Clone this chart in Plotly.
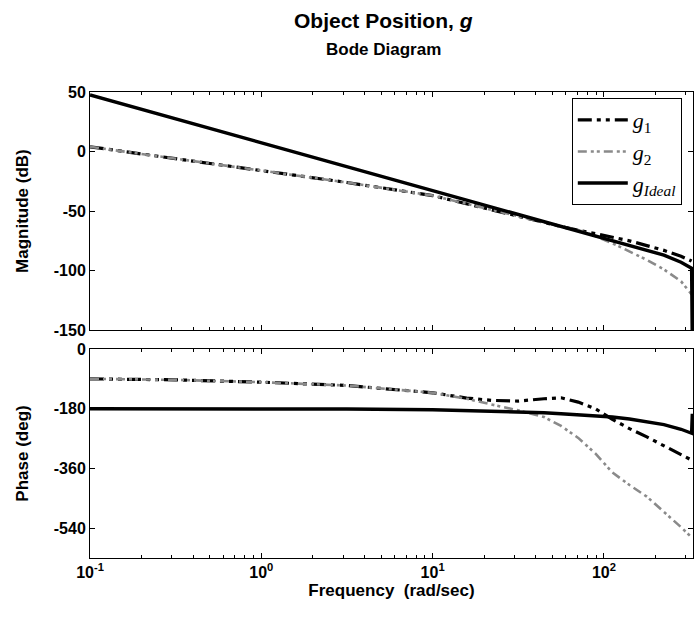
import plotly.graph_objects as go

# Frequency grid (rad/sec)
freq = [0.1, 0.316, 1.0, 3.16, 10.0, 15.8, 22.4, 31.6, 44.7, 56.2, 70.8,
        89.1, 112.0, 141.0, 178.0, 224.0, 282.0, 325.0]
# ideal response has one extra sample where it notches at the top end
freq_ideal = freq + [328.0]

# Magnitude (dB)
mag_g1 = [4, -6, -16, -26, -37, -44, -49, -54, -59.5, -63, -66, -69, -72,
          -75, -79, -83, -88, -92]
mag_g2 = [4, -6, -16, -26, -37, -44, -49, -54, -59.5, -63, -66, -71, -77,
          -84, -91, -99, -109, -120]
mag_ideal = [47.5, 27.5, 7.5, -12.5, -32.5, -40.5, -46.5, -52.5, -58.5,
             -62.5, -66.5, -70.5, -74.5, -78.5, -82.5, -87, -93, -98, -160]

# Phase (deg)
ph_g1 = [-90, -93, -100, -110, -132, -148, -155, -157, -150, -147, -160,
         -180, -212, -240, -265, -292, -318, -335]
ph_g2 = [-90, -93, -100, -110, -132, -150, -168, -185, -205, -232, -268,
         -315, -372, -410, -445, -490, -537, -568]
ph_ideal = [-180, -180, -180, -181, -183, -185, -187, -189, -192, -195,
            -198, -201, -205, -211, -219, -228, -242, -254, -195]

mag_ticks = [50, 0, -50, -100, -150]
phase_ticks = [0, -180, -360, -540]
decades = [0.1, 1, 10, 100]
decade_text = ["10<sup>-1</sup>", "10<sup>0</sup>", "10<sup>1</sup>", "10<sup>2</sup>"]

# minor log ticks: 2..9 within each decade
minor_pos = [d * k for d in decades for k in range(2, 10) if d * k <= 331]

SANS = "Liberation Sans"
SERIF = "Liberation Serif"

styles = {
    "g1": dict(color="black", width=3.2, dash="14px,5px,4px,5px,4px,5px"),
    "g2": dict(color="#8a8a8a", width=2.6, dash="9px,4px,3px,3px,3px,4px"),
    "ideal": dict(color="black", width=3.4, dash="solid"),
}
names = {
    "g1": "<i>g</i><sub>1</sub>",
    "g2": "<i>g</i><sub>2</sub>",
    "ideal": "<i>g</i><sub><i>Ideal</i></sub>",
}

fig = go.Figure()
series = [
    ("g1", freq, mag_g1, ph_g1),
    ("g2", freq, mag_g2, ph_g2),
    ("ideal", freq_ideal, mag_ideal, ph_ideal),
]
for key, f, m, p in series:
    fig.add_trace(go.Scatter(x=f, y=m, mode="lines", line=styles[key],
                             name=names[key], legendgroup=key,
                             xaxis="x", yaxis="y"))
    fig.add_trace(go.Scatter(x=f, y=p, mode="lines", line=styles[key],
                             name=names[key], legendgroup=key, showlegend=False,
                             xaxis="x2", yaxis="y2"))

# empty carriers so the minor-tick overlay axes get drawn
for xa, ya in (("x3", "y"), ("x4", "y2")):
    fig.add_trace(go.Scatter(x=[freq[0]], y=[None], mode="lines",
                             showlegend=False, hoverinfo="skip",
                             xaxis=xa, yaxis=ya))

tick_font = dict(family=SANS, size=16, color="black", weight="bold")
title_font = dict(family=SANS, size=17, color="black", weight="bold")
X_RANGE = [-1, 2.52]

common_x = dict(
    type="log", range=X_RANGE, showgrid=False, zeroline=False,
    showline=True, linecolor="black", linewidth=1, mirror="ticks",
    ticks="inside", ticklen=5, tickcolor="black", tickwidth=1,
    tickmode="array", tickvals=decades, ticktext=decade_text,
)
minor_x = dict(
    type="log", range=X_RANGE, autorange=False, showgrid=False,
    zeroline=False, showline=False, mirror="ticks", ticks="inside",
    ticklen=3, tickcolor="black", tickwidth=1, tickmode="array",
    tickvals=minor_pos, showticklabels=False, domain=[0, 1],
)
common_y = dict(
    showgrid=False, zeroline=False, showline=True, linecolor="black",
    linewidth=1, mirror="ticks", ticks="inside", ticklen=5, tickcolor="black",
    tickfont=tick_font, title_font=title_font, title_standoff=20,
    tickmode="array",
)

plot_h = 619 - 92 - 61
title_x = (383 - 90) / 603

fig.update_layout(
    width=694, height=619,
    margin=dict(l=90, r=1, t=92, b=61),
    paper_bgcolor="white", plot_bgcolor="white",
    xaxis=dict(common_x, domain=[0, 1], anchor="y", showticklabels=False),
    xaxis3=dict(minor_x, anchor="y", overlaying="x"),
    yaxis=dict(common_y, domain=[0.489, 1], anchor="x", range=[-150, 50],
               tickvals=mag_ticks, ticktext=[str(v) for v in mag_ticks],
               title_text="Magnitude (dB)"),
    xaxis2=dict(common_x, domain=[0, 1], anchor="y2", matches="x",
                tickfont=tick_font,
                title_text="Frequency  (rad/sec)", title_font=title_font,
                title_standoff=3),
    xaxis4=dict(minor_x, anchor="y2", overlaying="x2"),
    yaxis2=dict(common_y, domain=[0, 0.4485], anchor="x2", range=[-630, 0],
                tickvals=phase_ticks, ticktext=[str(v) for v in phase_ticks],
                title_text="Phase (deg)"),
    legend=dict(x=0.799, y=0.987, xanchor="left", yanchor="top",
                bgcolor="white", bordercolor="black", borderwidth=1,
                font=dict(family=SERIF, size=22, color="black"),
                tracegroupgap=0, itemwidth=50),
    showlegend=True,
    annotations=[
        dict(text="<b>Object Position, <i>g</i></b>",
             x=title_x, y=1 + (92 - 21) / plot_h, yanchor="middle",
             xref="paper", yref="paper", showarrow=False,
             font=dict(family=SANS, size=21, color="black")),
        dict(text="<b>Bode Diagram</b>",
             x=title_x, y=1 + (92 - 50) / plot_h, yanchor="middle",
             xref="paper", yref="paper", showarrow=False,
             font=dict(family=SANS, size=17, color="black")),
    ],
)

fig.write_html("out.html")
